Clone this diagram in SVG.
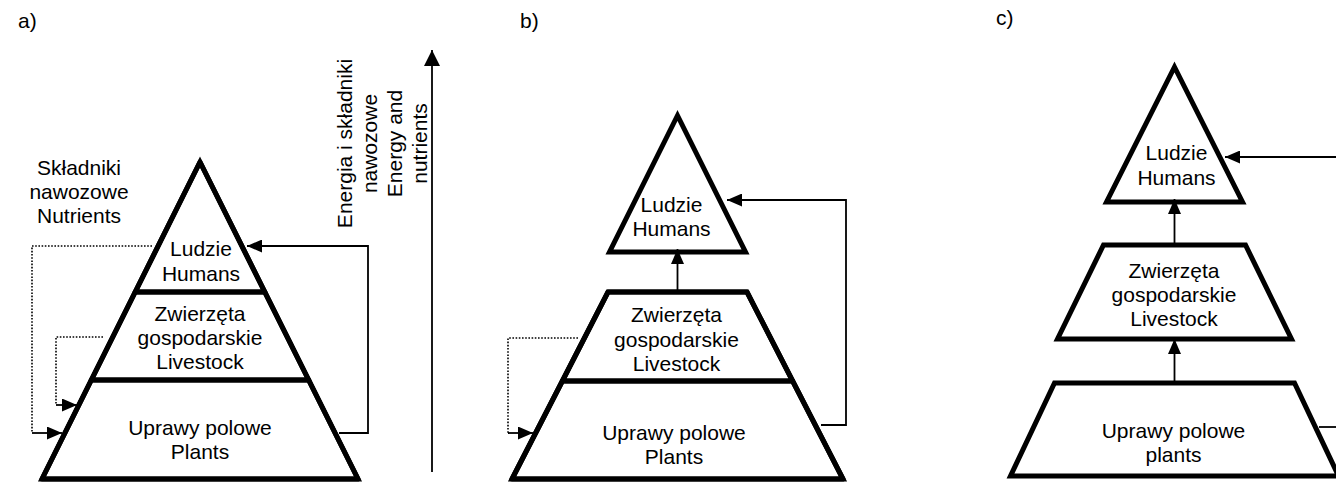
<svg xmlns="http://www.w3.org/2000/svg" width="1336" height="485" viewBox="0 0 1336 485">
<style>
text{font-family:"Liberation Sans",Arial,sans-serif;font-size:21px;fill:#000}
.m{text-anchor:middle}
.thick{fill:none;stroke:#000;stroke-width:5;stroke-linejoin:miter}
.thin{fill:none;stroke:#000;stroke-width:5;stroke-linejoin:round}
.c{fill:none;stroke:#000;stroke-width:1.8}
.d{fill:none;stroke:#000;stroke-width:1.6;stroke-dasharray:1.6 1.6}
</style>
<defs>
<marker id="ah" viewBox="0 0 15 13" refX="15" refY="6.5" markerWidth="15" markerHeight="13" markerUnits="userSpaceOnUse" orient="auto"><path d="M0,0L15,6.5L0,13z" fill="#000"/></marker>
<marker id="ahb" viewBox="0 0 16 16" refX="16" refY="8" markerWidth="16" markerHeight="16" markerUnits="userSpaceOnUse" orient="auto"><path d="M0,0L16,8L0,16z" fill="#000"/></marker>
</defs>

<g id="labels">
<text x="18" y="28">a)</text>
<text x="520" y="28">b)</text>
<text x="996" y="25">c)</text>
</g>

<!-- panel a -->
<g id="a-nutrients-label">
<text class="m" x="79" y="175">Składniki</text>
<text class="m" x="79" y="199">nawozowe</text>
<text class="m" x="79" y="223">Nutrients</text>
</g>
<g id="a-outline"><polygon class="thick" points="200,162 358,479 42,479"/></g>
<g id="a-humans">
<polygon class="thin" points="200,162 264.8,292 135.2,292"/>
<text class="m" x="201" y="256">Ludzie</text>
<text class="m" x="201" y="281">Humans</text>
</g>
<g id="a-livestock">
<polygon class="thin" points="135.2,292 264.8,292 308.7,380 91.3,380"/>
<text class="m" x="200" y="321">Zwierzęta</text>
<text class="m" x="200" y="345">gospodarskie</text>
<text class="m" x="200" y="369">Livestock</text>
</g>
<g id="a-plants">
<polygon class="thin" points="91.3,380 308.7,380 358,479 42,479"/>
<text class="m" x="200" y="435">Uprawy polowe</text>
<text class="m" x="200" y="459">Plants</text>
</g>
<g id="axis">
<text transform="translate(352,143.5) rotate(-90)" class="m"><tspan x="0" dy="0">Energia i składniki</tspan><tspan x="0" dy="25">nawozowe</tspan><tspan x="0" dy="25">Energy and</tspan><tspan x="0" dy="25">nutrients</tspan></text>
</g>

<!-- panel b -->
<g id="b-humans">
<polygon class="thick" points="677.5,115.5 745.5,252 609.5,252"/>
<text class="m" x="671.5" y="212">Ludzie</text>
<text class="m" x="671.5" y="236">Humans</text>
</g>
<g id="b-outline"><polygon class="thick" points="608,292 747,292 843,479 512,479"/></g>
<g id="b-livestock">
<polygon class="thin" points="608,292 747,292 792.6,381 562.4,381"/>
<text class="m" x="676.5" y="322">Zwierzęta</text>
<text class="m" x="676.5" y="346.5">gospodarskie</text>
<text class="m" x="676.5" y="370.5">Livestock</text>
</g>
<g id="b-plants">
<polygon class="thin" points="562.4,381 792.6,381 843,479 512,479"/>
<text class="m" x="674" y="440">Uprawy polowe</text>
<text class="m" x="674" y="464">Plants</text>
</g>

<!-- panel c -->
<g id="c-humans">
<polygon class="thick" points="1174.5,67 1242.5,202 1106.5,202"/>
<text class="m" x="1176.5" y="160">Ludzie</text>
<text class="m" x="1176.5" y="185">Humans</text>
</g>
<g id="c-livestock">
<polygon class="thick" points="1103.5,245 1245.5,245 1291.5,339 1057.5,339"/>
<text class="m" x="1174" y="278">Zwierzęta</text>
<text class="m" x="1174" y="302">gospodarskie</text>
<text class="m" x="1174" y="326">Livestock</text>
</g>
<g id="c-plants">
<polygon class="thick" points="1054.5,383 1294.5,383 1338.5,476 1010.5,476"/>
<text class="m" x="1173.5" y="438">Uprawy polowe</text>
<text class="m" x="1173.5" y="462">plants</text>
</g>

<g id="connectors">
<path class="c" d="M432,472V50" marker-end="url(#ahb)"/>
<path class="c" d="M339,433H368V246H247" marker-end="url(#ah)"/>
<path class="d" d="M152,246H32V433"/>
<path class="c" d="M32,433H62" marker-end="url(#ah)"/>
<path class="d" d="M103,337H56V405"/>
<path class="c" d="M56,405H77" marker-end="url(#ah)"/>
<path class="c" d="M821,425H846V200H727" marker-end="url(#ah)"/>
<path class="d" d="M578,338H508V433"/>
<path class="c" d="M508,433H533" marker-end="url(#ah)"/>
<path class="c" d="M677.5,292V249" marker-end="url(#ah)"/>
<path class="c" d="M1336,157H1225" marker-end="url(#ah)"/>
<path class="c" d="M1319,427H1336"/>
<path class="c" d="M1174.5,245V199" marker-end="url(#ah)"/>
<path class="c" d="M1174.5,383V339" marker-end="url(#ah)"/>
</g>
</svg>
